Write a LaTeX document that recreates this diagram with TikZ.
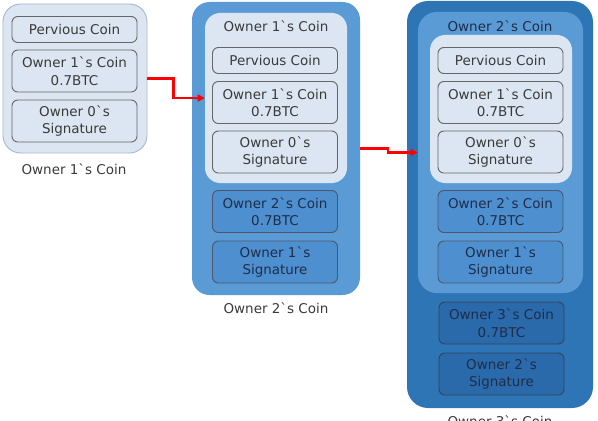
\documentclass[tikz,border=0pt]{standalone}
\usepackage{fontspec}
\setmainfont{DejaVu Sans}
\usetikzlibrary{arrows.meta}
\definecolor{coinlight}{HTML}{DCE6F2}
\definecolor{coinedge}{HTML}{A9B9CF}
\definecolor{coinmid}{HTML}{5B9BD5}
\definecolor{coinmidbox}{HTML}{4E8FCF}
\definecolor{coindark}{HTML}{2E75B6}
\definecolor{coindarkbox}{HTML}{2A69AA}
\definecolor{coingray}{HTML}{3A3A3A}
\definecolor{coinnavy}{HTML}{1F2D4A}
\newcommand{\gq}{\textasciigrave}

\begin{document}
\begin{tikzpicture}[
  x=0.03cm, y=-0.03cm,
  every node/.style={font=\fontsize{11.5}{15}\selectfont},
  panel/.style={rectangle, rounded corners=15pt, inner sep=0pt},
  lbox/.style={rectangle, rounded corners=5pt, draw=gray!80!black,
               line width=0.8pt, fill=coinlight, text=coingray,
               align=center, minimum width=3.75cm, inner sep=1pt},
  mbox/.style={lbox, draw=coinnavy!80, fill=coinmidbox, text=coinnavy},
  dbox/.style={lbox, draw=coinnavy!90, fill=coindarkbox, text=coinnavy},
  one/.style={minimum height=0.78cm},
  two/.style={minimum height=1.26cm},
  coincap/.style={text=coingray},
  flow/.style={-{Triangle[length=6pt,width=6pt]}, red, line width=1.8pt}
]
\useasboundingbox (0,0) rectangle (598,420);

% === Owner 1`s coin ===
\node[panel, fill=coinlight, draw=coinedge, line width=0.8pt,
      minimum width=4.32cm, minimum height=4.47cm] (p1) at (75,78.5) {};
\node[lbox, one] (p1prev) at (74.5,29.5) {Pervious Coin};
\node[lbox, two] (p1coin) at (74.5,71) {Owner 1\gq s Coin\\0.7BTC};
\node[lbox, two] (p1sig)  at (74.5,121) {Owner 0\gq s\\Signature};
\node[coincap] (p1cap) at (74,169) {Owner 1\gq s Coin};

% === Owner 2`s coin ===
\node[panel, fill=coinmid, minimum width=5.04cm,
      minimum height=8.79cm] (p2) at (276,148.5) {};
\node[panel, rounded corners=13pt, fill=coinlight, minimum width=4.26cm,
      minimum height=5.1cm] (in2) at (276,98) {};
\node[coincap] (in2cap) at (276,26) {Owner 1\gq s Coin};
\node[lbox, one] (p2prev) at (275,60.5) {Pervious Coin};
\node[lbox, two] (p2coin) at (275,102.5) {Owner 1\gq s Coin\\0.7BTC};
\node[lbox, two] (p2sig)  at (275,152) {Owner 0\gq s\\Signature};
\node[mbox, two] (p2new)  at (275,211.5) {Owner 2\gq s Coin\\0.7BTC};
\node[mbox, two] (p2nsig) at (275,262) {Owner 1\gq s\\Signature};
\node[coincap] (p2cap) at (276,308) {Owner 2\gq s Coin};

% === Owner 3`s coin ===
\node[panel, rounded corners=18pt, fill=coindark, minimum width=5.58cm,
      minimum height=12.21cm] (p3) at (500,204.5) {};
\node[panel, rounded corners=16pt, fill=coinmid, minimum width=4.95cm,
      minimum height=8.43cm] (mid3) at (500.5,152.5) {};
\node[text=coinnavy] (mid3cap) at (500,26) {Owner 2\gq s Coin};
\node[panel, rounded corners=13pt, fill=coinlight, minimum width=4.26cm,
      minimum height=4.44cm] (in3) at (501,109) {};
\node[lbox, one] (p3prev) at (500.5,60.5) {Pervious Coin};
\node[lbox, two] (p3coin) at (500.5,102.5) {Owner 1\gq s Coin\\0.7BTC};
\node[lbox, two] (p3sig)  at (500.5,152) {Owner 0\gq s\\Signature};
\node[mbox, two] (p3mid)  at (500.5,211.5) {Owner 2\gq s Coin\\0.7BTC};
\node[mbox, two] (p3msig) at (500.5,262) {Owner 1\gq s\\Signature};
\node[dbox, two] (p3new)  at (501.5,323) {Owner 3\gq s Coin\\0.7BTC};
\node[dbox, two] (p3nsig) at (501.5,374) {Owner 2\gq s\\Signature};
\node[coincap] (p3cap) at (500,421) {Owner 3\gq s Coin};

% === transfers ===
\draw[flow] (p1.east) -- ++(26,0) |- (in2.west);
\draw[flow] (p2.east) -- ++(28,0) |- (mid3.west);

\end{tikzpicture}
\end{document}
